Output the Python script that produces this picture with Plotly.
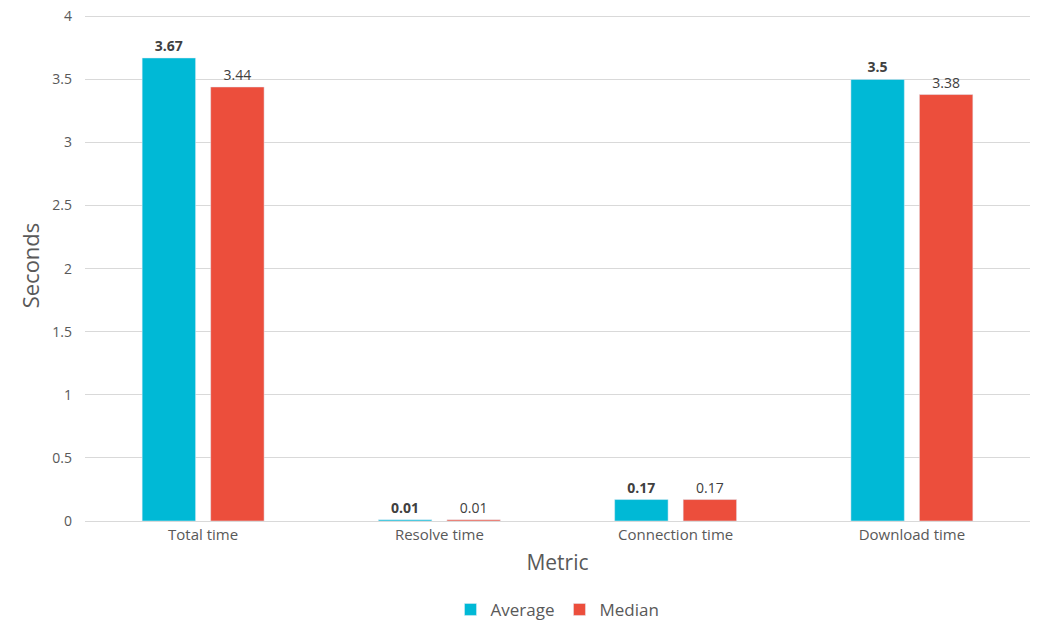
import plotly.graph_objects as go

metrics = ["Total time", "Resolve time", "Connection time", "Download time"]
average = [3.67, 0.01, 0.17, 3.5]
median = [3.44, 0.01, 0.17, 3.38]

TEAL = "#00b9d6"
RED = "#ec4e3c"
INK = "#595959"
GRID = "#d9d9d9"
FONT = "'Open Sans', Lato, sans-serif"

fig = go.Figure()
fig.add_bar(
    x=metrics, y=average, name="Average", marker_color=TEAL,
    text=[f"<b>{v:g}</b>" for v in average], textposition="outside",
    textfont=dict(family=FONT, size=14, color="#404040"), cliponaxis=False,
)
fig.add_bar(
    x=metrics, y=median, name="Median", marker_color=RED,
    text=[f"{v:g}" for v in median], textposition="outside",
    textfont=dict(family=FONT, size=14, color="#404040"), cliponaxis=False,
)

# range runs a bit past 4 so the top gridline gets drawn
fig.update_layout(
    width=1056, height=633, paper_bgcolor="white", plot_bgcolor="white",
    barmode="group", bargap=0.42, bargroupgap=0.22,
    margin=dict(l=85, r=26, t=10, b=112, autoexpand=False),
    font=dict(family=FONT, color=INK),
    xaxis=dict(
        title=dict(text="Metric", font=dict(size=21, color=INK), standoff=12),
        tickfont=dict(size=15, color=INK), showline=True, linecolor=GRID,
        ticks="", automargin=False,
    ),
    yaxis=dict(
        title=dict(text="Seconds", font=dict(size=22, color=INK), standoff=6),
        range=[0, 4.05], tickvals=[0, 0.5, 1, 1.5, 2, 2.5, 3, 3.5, 4],
        tickfont=dict(size=14, color=INK),
        gridcolor=GRID, zeroline=False, ticklabelstandoff=12, automargin=False,
    ),
    legend=dict(
        orientation="h", x=0.5, xanchor="center", y=-0.174, yanchor="middle",
        font=dict(size=17, color=INK), itemwidth=30, tracegroupgap=0,
    ),
)

# drop the browser's default 8px body margin so the figure fills the window
fig.write_html(
    "out.html", config={"displayModeBar": False},
    post_script="document.body.style.margin='0';",
)
